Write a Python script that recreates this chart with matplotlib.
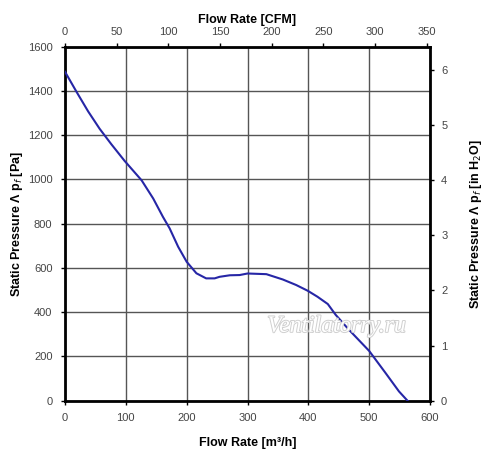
import matplotlib
matplotlib.use('Agg')
import matplotlib.pyplot as plt
import matplotlib.patheffects as pe

plt.rcParams['font.family'] = ['Liberation Sans', 'DejaVu Sans']

# fan curve
flow_m3h = [0, 19, 38, 57, 76, 98, 126, 145, 161, 172, 186, 200, 216, 232, 246, 254, 271,
            287, 300, 331, 358, 380, 399, 415, 432, 445, 467, 500, 527, 549, 563]
pressure_pa = [1487, 1396, 1308, 1229, 1160, 1084, 996, 914, 831, 779, 696, 628, 576, 553, 553, 560, 567,
               568, 575, 572, 548, 523, 497, 470, 437, 388, 320, 225, 125, 42, 0]

x_ticks = [0, 100, 200, 300, 400, 500, 600]
y_ticks = [0, 200, 400, 600, 800, 1000, 1200, 1400, 1600]
cfm_ticks = [0, 50, 100, 150, 200, 250, 300, 350]
inh2o_ticks = [0, 1, 2, 3, 4, 5, 6]

M3H_TO_CFM = 0.588578
PA_PER_INH2O = 249.089

fig = plt.figure(figsize=(5.0, 4.54), dpi=100)
ax = fig.add_axes([0.13, 0.1174, 0.73, 0.7796])

ax.plot(flow_m3h, pressure_pa, color='#2626a6', lw=1.5, zorder=3)

ax.set_xlim(0, 600)
ax.set_ylim(0, 1600)
ax.set_xticks(x_ticks)
ax.set_yticks(y_ticks)
ax.grid(True, color='#555555', lw=1.0)
ax.set_axisbelow(True)
for s in ax.spines.values():
    s.set_linewidth(2.0)
    s.set_color('black')

tick_kw = dict(labelsize=8, labelcolor='#444444', length=3, width=1, direction='out')
ax.tick_params(axis='both', pad=6, **tick_kw)

top = ax.secondary_xaxis('top', functions=(lambda v: v * M3H_TO_CFM, lambda v: v / M3H_TO_CFM))
top.set_xticks(cfm_ticks)
top.tick_params(pad=4, **tick_kw)
top.set_xlabel('Flow Rate [CFM]', fontsize=9, fontweight='bold', labelpad=3)

right = ax.secondary_yaxis('right', functions=(lambda v: v / PA_PER_INH2O, lambda v: v * PA_PER_INH2O))
right.set_yticks(inh2o_ticks)
right.tick_params(pad=5, **tick_kw)
right.set_ylabel('Static Pressure Λ p$_f$ [in H$_2$O]', fontsize=9, fontweight='bold', labelpad=15)

ax.set_xlabel('Flow Rate [m³/h]', fontsize=9, fontweight='bold', labelpad=10)
ax.set_ylabel('Static Pressure Λ p$_f$ [Pa]', fontsize=9, fontweight='bold', labelpad=2)

ax.text(0.745, 0.21, 'Ventilatorry.ru', transform=ax.transAxes, ha='center', va='center',
        fontsize=17, fontstyle='italic', family='Liberation Serif', color='white', zorder=4,
        path_effects=[pe.withStroke(linewidth=1.4, foreground='#d0d0d0')])

fig.savefig('out.png', dpi=100, facecolor='white')
